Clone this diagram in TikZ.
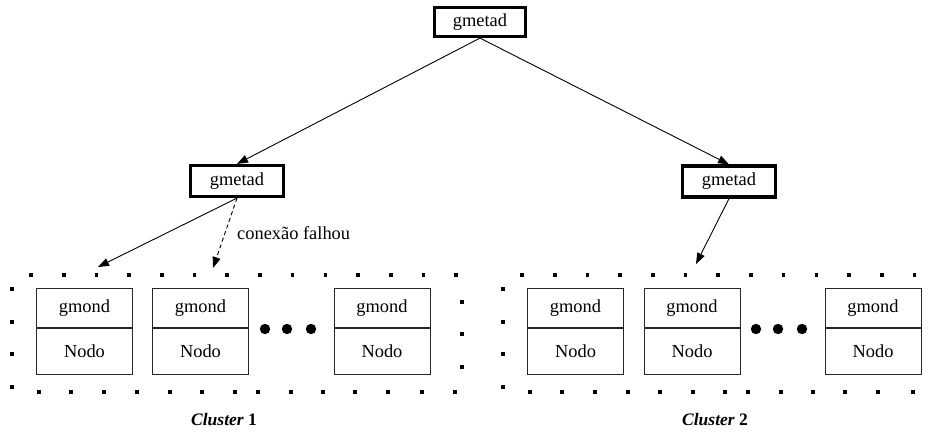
\documentclass[tikz,border=0pt]{standalone}
\usepackage{fontspec}
\setmainfont{Liberation Serif}
\usetikzlibrary{arrows.meta}

\tikzset{
  metabox/.style={draw, line width=3.2pt, minimum width=93pt, minimum height=31pt,
                  inner sep=0pt, font=\fontsize{18.4}{22}\selectfont},
  partbox/.style={draw=black!85, line width=1pt, minimum width=96pt,
                  inner sep=0pt, font=\fontsize{18.4}{22}\selectfont},
  headpart/.style={partbox, minimum height=39pt},
  bodypart/.style={partbox, minimum height=46pt},
  link/.style={line width=0.9pt, -{Triangle[length=11pt,width=8pt]}},
  frame dot/.style={fill=black},
  more dot/.style={fill=black},
  clabel/.style={font=\fontsize{17.5}{21}\selectfont\bfseries},
}

\newcommand{\framedot}[2]{\fill[frame dot] (#1-1.8,#2-1.8) rectangle (#1+1.8,#2+1.8);}

\begin{document}
\begin{tikzpicture}[x=1pt, y=-1pt]
  \useasboundingbox (0,0) rectangle (941,434);

  % monitoring daemons
  \node[metabox, minimum width=91pt, minimum height=29pt] (top) at (480,22) {gmetad};
  \node[metabox] (lg) at (237,181) {gmetad};
  \node[metabox] (rg) at (729,181.5) {gmetad};

  % gmond / Nodo boxes
  \foreach \n/\x in {a1/84.5, a2/200.5, a3/382, b1/575.5, b2/692, b3/873} {
    \node[headpart] (\n h) at (\x,308) {gmond};
    \node[bodypart, anchor=north] (\n b) at (\n h.south) {Nodo};
  }

  % ellipsis dots between the boxes
  \foreach \x in {265,287,311,756,778,802}
    \fill[more dot] (\x,329) circle (5.2pt);

  % dotted frame of cluster 1
  \foreach \i in {0,...,13} {\framedot{31+32.7*\i}{275}}
  \foreach \y in {289,322,354,387} {\framedot{12}{\y}}
  \foreach \y in {302,334,367} {\framedot{462}{\y}}
  \foreach \x in {39,71,104,137,170,202,235,258,291,323,355,388,422,455} {\framedot{\x}{392}}

  % dotted frame of cluster 2
  \foreach \i in {0,...,12} {\framedot{522+32.7*\i}{275}}
  \foreach \y in {289,322,354,387} {\framedot{503}{\y}}
  \foreach \x in {530,562,595,628,660,693,725,748,781,813,845,878,913} {\framedot{\x}{392}}

  % arrow ends on the cluster frames
  \coordinate (c1a) at (98,267);
  \coordinate (c1b) at (213,268);
  \coordinate (c2a) at (696,264);

  % connections
  \draw[link] (top.south) -- (lg.north);
  \draw[link] (top.south) -- (rg.north);
  \draw[link] (lg.south) -- (c1a);
  \draw[link, dash pattern=on 4pt off 3pt] (lg.south) -- (c1b);
  \draw[link] (rg.south) -- (c2a);

  \node[anchor=west, inner sep=0pt, font=\fontsize{18.4}{22}\selectfont] (fail) at (237,233) {conexão falhou};

  % cluster captions
  \node[clabel] (cl1) at (224,420) {\itshape Cluster \upshape 1};
  \node[clabel] (cl2) at (715,420) {\itshape Cluster \upshape 2};
\end{tikzpicture}
\end{document}
